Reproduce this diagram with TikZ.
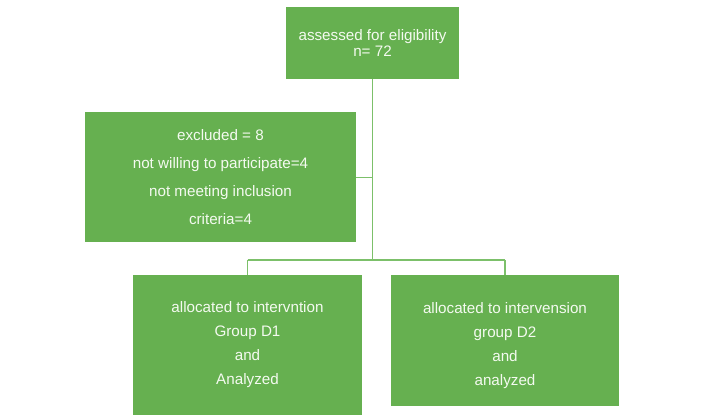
\documentclass[tikz,border=0pt]{standalone}
\usepackage{fontspec}
\setmainfont{Liberation Sans}
\definecolor{boxgreen}{HTML}{66B050}
\definecolor{linegreen}{HTML}{7CC06A}
\definecolor{txt}{HTML}{F4FAF0}
\begin{document}
\begin{tikzpicture}[x=1pt,y=-1pt,
  box/.style={rectangle, fill=boxgreen, draw=none, text=txt, align=center, inner sep=0pt},
  conn/.style={draw=linegreen, line width=1.3pt}]
\useasboundingbox (0,0) rectangle (720,419);
\node[box, minimum width=173pt, minimum height=72pt, font=\fontsize{15.2}{16.5}\selectfont] (top) at (372.5,43)
  {\raisebox{-2pt}[\height][\depth]{\begin{tabular}{@{}c@{}}assessed for eligibility\\n= 72\end{tabular}}};
\node[box, minimum width=271pt, minimum height=130pt, font=\fontsize{15.2}{28}\selectfont] (excl) at (220.5,177.5)
  {excluded = 8\\not willing to participate=4\\not meeting inclusion\\criteria=4};
\node[box, minimum width=229pt, minimum height=140pt, font=\fontsize{15.2}{24}\selectfont] (b1) at (247.5,345)
  {allocated to intervntion\\Group D1\\and\\Analyzed};
\node[box, minimum width=228pt, minimum height=131pt, font=\fontsize{15.2}{24}\selectfont] (b2) at (505,340.5)
  {\raisebox{-4pt}[\height][\depth]{\begin{tabular}{@{}c@{}}allocated to intervension\\group D2\\and\\analyzed\end{tabular}}};
\coordinate (j) at (372.5,260);
\draw[conn] (top.south) -- (j);
\draw[conn] (excl.east) -- (excl.east -| j);
\draw[conn] (j -| b1.north) -- (j -| b2.north);
\draw[conn] (j -| b1.north) -- (b1.north);
\draw[conn] (j -| b2.north) -- (b2.north);
\end{tikzpicture}
\end{document}
